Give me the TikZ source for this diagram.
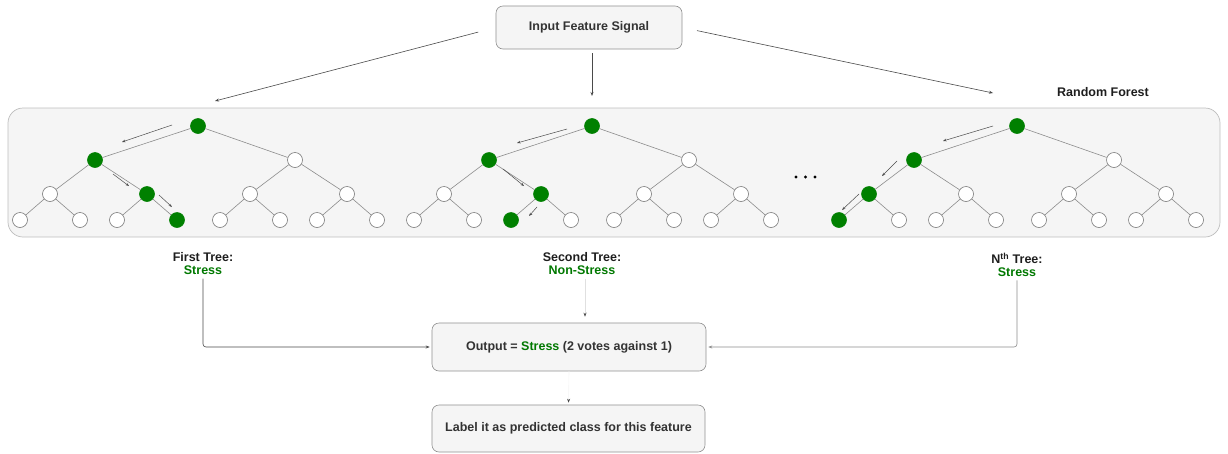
\documentclass[tikz,border=0pt]{standalone}
\usepackage{fontspec}
\setmainfont{Liberation Sans}
\usetikzlibrary{arrows.meta,calc}

\definecolor{panelfill}{HTML}{F5F5F5}
\definecolor{panelline}{HTML}{8F8F8F}
\definecolor{forestline}{HTML}{BDBDBD}
\definecolor{boxtext}{HTML}{333333}
\definecolor{headtext}{HTML}{1E1E1E}
\definecolor{pathgreen}{HTML}{008000}
\definecolor{votegreen}{HTML}{007800}
\definecolor{wire}{HTML}{4A4A4A}
\definecolor{branch}{HTML}{8C8C8C}
\definecolor{ring}{HTML}{7A7A7A}

% one binary decision tree of depth three; #1 = name prefix, #2 = x of the root
\newcommand\decisiontree[2]{%
  \node[tnode,#1-r/.try]   (#1-r)   at (#2,126) {};
  \node[tnode,#1-a/.try]   (#1-a)   at ($(#1-r)+(-103,34)$) {};
  \node[tnode,#1-b/.try]   (#1-b)   at ($(#1-r)+(97,34)$) {};
  \node[tnode,#1-aa/.try]  (#1-aa)  at ($(#1-a)+(-45,34)$) {};
  \node[tnode,#1-ab/.try]  (#1-ab)  at ($(#1-a)+(52,34)$) {};
  \node[tnode,#1-ba/.try]  (#1-ba)  at ($(#1-b)+(-45,34)$) {};
  \node[tnode,#1-bb/.try]  (#1-bb)  at ($(#1-b)+(52,34)$) {};
  \node[tnode,#1-aaa/.try] (#1-aaa) at ($(#1-aa)+(-30,26)$) {};
  \node[tnode,#1-aab/.try] (#1-aab) at ($(#1-aa)+(30,26)$) {};
  \node[tnode,#1-aba/.try] (#1-aba) at ($(#1-ab)+(-30,26)$) {};
  \node[tnode,#1-abb/.try] (#1-abb) at ($(#1-ab)+(30,26)$) {};
  \node[tnode,#1-baa/.try] (#1-baa) at ($(#1-ba)+(-30,26)$) {};
  \node[tnode,#1-bab/.try] (#1-bab) at ($(#1-ba)+(30,26)$) {};
  \node[tnode,#1-bba/.try] (#1-bba) at ($(#1-bb)+(-30,26)$) {};
  \node[tnode,#1-bbb/.try] (#1-bbb) at ($(#1-bb)+(30,26)$) {};
  \foreach \u/\v in {r/a,r/b,a/aa,a/ab,b/ba,b/bb,aa/aaa,aa/aab,ab/aba,ab/abb,
                     ba/baa,ba/bab,bb/bba,bb/bbb}
    \draw[tedge] (#1-\u) -- (#1-\v);
}

\begin{document}
\begin{tikzpicture}[x=1pt,y=-1pt,
  every node/.style={font=\fontsize{12.5}{13}\selectfont\bfseries},
  flowbox/.style={draw=panelline,fill=panelfill,rounded corners=7pt,
    text=boxtext,line width=0.6pt,inner sep=0pt},
  tnode/.style={circle,draw=ring,fill=white,minimum size=15pt,inner sep=0pt,
    line width=0.6pt},
  gnode/.style={fill=pathgreen,draw=pathgreen},
  tedge/.style={draw=branch,line width=0.6pt},
  hint/.style={draw=wire,line width=0.5pt,-{Stealth[length=3.5pt,width=2.6pt]}},
  wireline/.style={draw=wire,line width=0.6pt,-{Stealth[length=4pt,width=3pt]}},
  faintwire/.style={draw=black!12,line width=0.6pt,
    -{Stealth[length=4pt,width=3pt,color=wire]}},
  treelabel/.style={align=center,text=headtext},
  % nodes on the decision path of each tree
  t1-r/.style={gnode}, t1-a/.style={gnode}, t1-ab/.style={gnode}, t1-abb/.style={gnode},
  t2-r/.style={gnode}, t2-a/.style={gnode}, t2-ab/.style={gnode}, t2-aba/.style={gnode},
  t3-r/.style={gnode}, t3-a/.style={gnode}, t3-aa/.style={gnode}, t3-aaa/.style={gnode},
]
\useasboundingbox (0,0) rectangle (1228,453);

% input box and forest panel
\node[flowbox,minimum width=186pt,minimum height=43pt] (inp) at (589,27.5)
  {Input Feature Signal};
\node[draw=forestline,fill=panelfill,rounded corners=15pt,line width=0.7pt,
  minimum width=1212pt,minimum height=129pt,inner sep=0pt] (forest) at (614,172.5) {};
\node[text=headtext] (rf) at (1103,92) {Random Forest};

% the trees
\decisiontree{t1}{198}
\decisiontree{t2}{592}
\decisiontree{t3}{1017}

% arrows tracing the decision path
\coordinate (t1-h1s) at (172,125); \coordinate (t1-h1e) at (122,142);
\coordinate (t1-h2s) at (113,174); \coordinate (t1-h2e) at (129,186);
\coordinate (t1-h3s) at (159,195); \coordinate (t1-h3e) at (172,207);
\coordinate (t2-h1s) at (567,129); \coordinate (t2-h1e) at (517,143);
\coordinate (t2-h2s) at (503,169); \coordinate (t2-h2e) at (524,186);
\coordinate (t2-h3s) at (537,207); \coordinate (t2-h3e) at (529,216);
\coordinate (t3-h1s) at (993,126); \coordinate (t3-h1e) at (943,141);
\coordinate (t3-h2s) at (897,161); \coordinate (t3-h2e) at (882,176);
\coordinate (t3-h3s) at (859,194); \coordinate (t3-h3e) at (842,210);
\foreach \t in {t1,t2,t3}
  \foreach \h in {h1,h2,h3}
    \draw[hint] (\t-\h s) -- (\t-\h e);

% ellipsis between the second and the last tree
\foreach \x in {796,805.5,815}
  \fill[black] (\x,177) circle (1.7);

% signal distributed to the trees
\coordinate (t1in) at (215,101);
\coordinate (t2in) at (592,96);
\coordinate (t3in) at (993,93);
\draw[wireline,shorten <=18pt] (inp.west) -- (t1in);
\draw[wireline,shorten <=4pt] (inp.south -| t2in) -- (t2in);
\draw[wireline,shorten <=15pt] (inp.east) -- (t3in);

% votes of the trees
\node[treelabel] (lab1) at (203,264) {First Tree:\\\textcolor{votegreen}{Stress}};
\node[treelabel] (lab2) at (582,264) {Second Tree:\\\textcolor{votegreen}{Non-Stress}};
\node[treelabel] (lab3) at (1017,265)
  {N\textsuperscript{th} Tree:\\\textcolor{votegreen}{Stress}};

% aggregation and final label
\node[flowbox,minimum width=274pt,minimum height=48pt] (out) at (569,347)
  {Output = \textcolor{votegreen}{Stress} (2 votes against 1)};
\node[flowbox,minimum width=273pt,minimum height=47pt] (lbl) at (568.5,428.5)
  {Label it as predicted class for this feature};

\draw[wireline,rounded corners=3pt,shorten >=2pt] (lab1.south) |- (out.west);
\draw[faintwire,shorten >=6pt] ([xshift=3pt]lab2.south) -- ([xshift=3pt]lab2.south |- out.north);
\draw[wireline,rounded corners=3pt,shorten >=2pt,draw=black!45] (lab3.south) |- (out.east);
\draw[faintwire,draw=black!4,shorten >=2pt] (out.south) -- (lbl.north);
\end{tikzpicture}
\end{document}
